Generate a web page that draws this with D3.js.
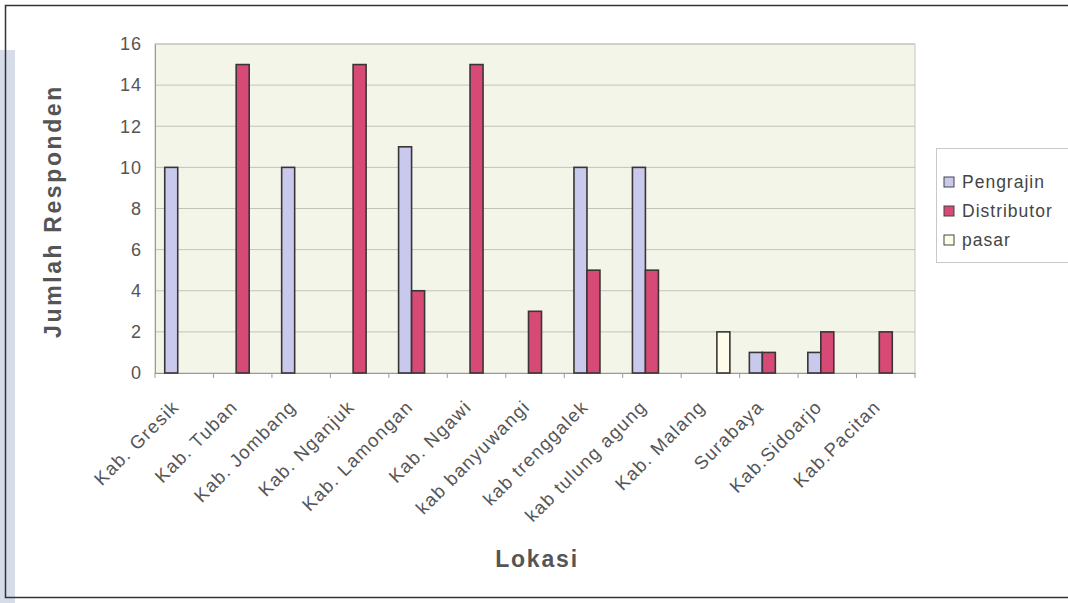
<!DOCTYPE html>
<html>
<head>
<meta charset="utf-8">
<script src="https://cdn.jsdelivr.net/npm/d3@7"></script>
<style>
  body { margin: 0; background: #fff; }
  svg { display: block; font-family: "Liberation Sans", Arial, sans-serif; }
</style>
</head>
<body>
<div id="chart"></div>
<script>
// data
const categories = ["Kab. Gresik", "Kab. Tuban", "Kab. Jombang", "Kab. Nganjuk", "Kab. Lamongan",
  "Kab. Ngawi", "kab banyuwangi", "kab trenggalek", "kab tulung agung", "Kab. Malang",
  "Surabaya", "Kab.Sidoarjo", "Kab.Pacitan"];
const seriesNames = ["Pengrajin", "Distributor", "pasar"];
const pengrajin   = [10, 0, 10, 0, 11, 0, 0, 10, 10, 0, 1, 1, 0];
const distributor = [0, 15, 0, 15, 4, 15, 3, 5, 5, 0, 1, 2, 2];
const pasar       = [0, 0, 0, 0, 0, 0, 0, 0, 0, 2, 0, 0, 0];
const yTicks = [0, 2, 4, 6, 8, 10, 12, 14, 16];
const colors = ["#c9c9ee", "#d84a76", "#fdfdea"];

const W = 1068, H = 603;
const plot = { left: 155, top: 44, right: 915, bottom: 373 };

const svg = d3.select("#chart").append("svg")
  .attr("width", W)
  .attr("height", H);

// page frame
svg.append("rect").attr("x", 0).attr("y", 50).attr("width", 15).attr("height", H - 50)
  .attr("fill", "#d6dce8");
svg.append("rect").attr("x", 5.5).attr("y", 5.5).attr("width", W + 20).attr("height", 592)
  .attr("fill", "none").attr("stroke", "#333").attr("stroke-width", 1.5);

let x0 = d3.scaleBand().domain(categories).range([plot.left, plot.right]).padding(0);
let x1 = d3.scaleBand().domain(seriesNames).range([0, x0.bandwidth()]).paddingInner(0).paddingOuter(0.75);
let y = d3.scaleLinear().domain([0, 16]).range([plot.bottom, plot.top]);

// plot background
svg.append("rect")
  .attr("x", plot.left).attr("y", plot.top)
  .attr("width", plot.right - plot.left).attr("height", plot.bottom - plot.top)
  .attr("fill", "#f4f5e9")
  .attr("stroke", "#c4c4bc");

// gridlines
svg.append("g")
  .selectAll("line")
  .data(yTicks.slice(1))
  .enter().append("line")
  .attr("x1", plot.left).attr("x2", plot.right)
  .attr("y1", d => y(d)).attr("y2", d => y(d))
  .attr("stroke", "#c2c3b8").attr("stroke-width", 1);

// y axis
const yAxis = svg.append("g")
  .attr("transform", `translate(${plot.left},0)`)
  .call(d3.axisLeft(y).tickValues(yTicks).tickSize(0).tickPadding(13));
yAxis.select(".domain").attr("stroke", "#999");
yAxis.selectAll("text").attr("font-size", 18).attr("letter-spacing", 1).attr("fill", "#555");

// x axis
const xAxis = svg.append("g")
  .attr("transform", `translate(0,${plot.bottom})`)
  .call(d3.axisBottom(x0).tickSize(0));
xAxis.select(".domain").attr("stroke", "#999");
xAxis.selectAll("text")
  .attr("font-size", 18.5)
  .attr("letter-spacing", 1.3)
  .attr("fill", "#555")
  .attr("text-anchor", "end")
  .attr("x", 0).attr("y", 0).attr("dy", 0)
  .attr("transform", "translate(-4,35) rotate(-45)");
xAxis.selectAll(".sep")
  .data(d3.range(categories.length + 1))
  .enter().append("line")
  .attr("x1", i => plot.left + i * x0.step())
  .attr("x2", i => plot.left + i * x0.step())
  .attr("y1", 0).attr("y2", 5)
  .attr("stroke", "#999");

// bars
const series = [pengrajin, distributor, pasar];
const groups = svg.append("g")
  .selectAll("g")
  .data(categories)
  .enter().append("g")
  .attr("transform", d => `translate(${x0(d)},0)`);

groups.selectAll("rect")
  .data((c, i) => seriesNames.map((s, j) => ({ s, j, v: series[j][i] })).filter(d => d.v > 0))
  .enter().append("rect")
  .attr("x", d => x1(d.s))
  .attr("width", x1.bandwidth())
  .attr("y", d => y(d.v))
  .attr("height", d => plot.bottom - y(d.v))
  .attr("fill", d => colors[d.j])
  .attr("stroke", "#3a3535")
  .attr("stroke-width", 1.6);

// axis titles
svg.append("text")
  .attr("transform", "translate(61,211) rotate(-90)")
  .attr("text-anchor", "middle")
  .attr("font-size", 23)
  .attr("letter-spacing", 2.6)
  .attr("font-weight", "bold")
  .attr("fill", "#555")
  .text("Jumlah Responden");

svg.append("text")
  .attr("x", 537).attr("y", 567)
  .attr("text-anchor", "middle")
  .attr("font-size", 23)
  .attr("letter-spacing", 1.8)
  .attr("font-weight", "bold")
  .attr("fill", "#555")
  .text("Lokasi");

// legend
const legend = svg.append("g");
legend.append("rect")
  .attr("x", 936.5).attr("y", 148.5).attr("width", 140).attr("height", 114)
  .attr("fill", "#fff").attr("stroke", "#c8c8c8");
const li = legend.selectAll(".item")
  .data(seriesNames)
  .enter().append("g")
  .attr("transform", (d, i) => `translate(944,${188 + i * 29})`);
li.append("rect")
  .attr("x", 0).attr("y", -11).attr("width", 10).attr("height", 10)
  .attr("fill", (d, i) => colors[i]).attr("stroke", "#444").attr("stroke-width", 1);
li.append("text")
  .attr("x", 18).attr("y", 0)
  .attr("font-size", 17.5)
  .attr("letter-spacing", 1)
  .attr("fill", "#444")
  .text(d => d);
</script>
</body>
</html>
